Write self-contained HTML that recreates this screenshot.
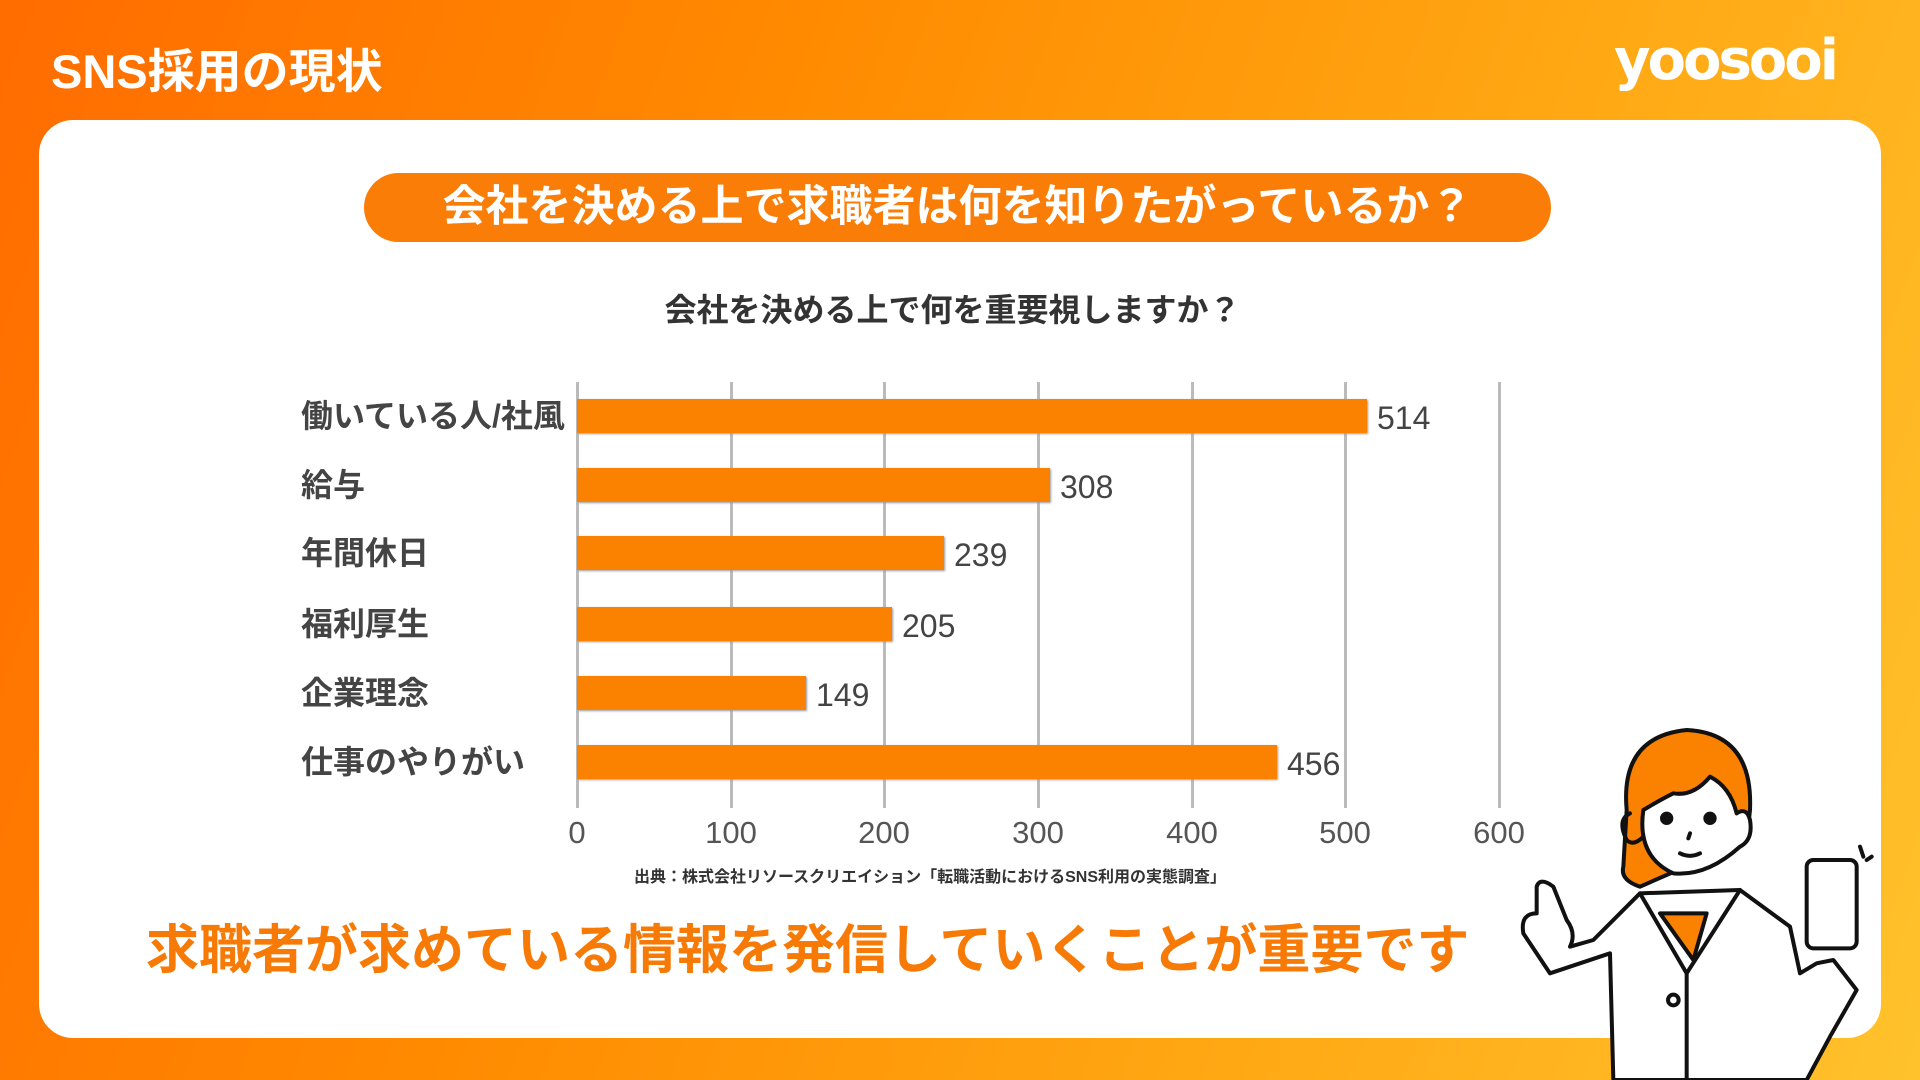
<!DOCTYPE html>
<html><head><meta charset="utf-8"><style>
body{margin:0;width:1920px;height:1080px;overflow:hidden;font-family:"Liberation Sans","Noto Sans CJK JP",sans-serif;
background:linear-gradient(110deg,#ff6c00 0%,#ff8a00 35%,#ffa814 70%,#ffc22c 100%);position:relative}
.t{position:absolute;white-space:nowrap}
.card{position:absolute;left:39px;top:120px;width:1842px;height:918px;background:#fff;border-radius:34px}
.pill{position:absolute;left:364px;top:173px;width:1187px;height:69px;background:#f97d06;border-radius:35px;color:#fff;font-weight:bold;font-size:43px;text-align:center;line-height:69px}
.lab{position:absolute;left:301px;font-size:32px;font-weight:bold;color:#444;line-height:34px}
.bar{position:absolute;left:577px;height:34px;background:#fb8100;box-shadow:1px 1px 2px #999}
.val{position:absolute;font-size:32px;color:#444;line-height:34px;font-family:"Liberation Sans",sans-serif}
.grid{position:absolute;top:382px;width:3px;height:426px;background:#bbb}
.tick{position:absolute;top:815px;font-size:31px;color:#555;width:80px;margin-left:-40px;text-align:center}
</style></head><body>
<div class="t" style="left:51px;top:33px;font-size:47px;font-weight:bold;color:#fff">SNS採用の現状</div>
<div class="t" style="left:1614px;top:28px;font-size:56px;font-weight:bold;color:#fff;font-family:'DejaVu Sans',sans-serif;letter-spacing:-3px">yoosooi</div>
<div class="card"></div>
<div class="pill">会社を決める上で求職者は何を知りたがっているか？</div>
<div class="t" style="left:0;width:1905px;text-align:center;top:285px;font-size:32px;font-weight:bold;color:#333">会社を決める上で何を重要視しますか？</div>
<div class="grid" style="left:576px"></div><div class="grid" style="left:730px"></div><div class="grid" style="left:883px"></div><div class="grid" style="left:1037px"></div><div class="grid" style="left:1191px"></div><div class="grid" style="left:1344px"></div><div class="grid" style="left:1498px"></div>
<div class="tick" style="left:577px">0</div><div class="tick" style="left:731px">100</div><div class="tick" style="left:884px">200</div><div class="tick" style="left:1038px">300</div><div class="tick" style="left:1192px">400</div><div class="tick" style="left:1345px">500</div><div class="tick" style="left:1499px">600</div>
<div class="lab" style="top:399px">働いている人/社風</div><div class="bar" style="top:399px;width:790px"></div><div class="val" style="top:401px;left:1377px">514</div>
<div class="lab" style="top:468px">給与</div><div class="bar" style="top:468px;width:473px"></div><div class="val" style="top:470px;left:1060px">308</div>
<div class="lab" style="top:536px">年間休日</div><div class="bar" style="top:536px;width:367px"></div><div class="val" style="top:538px;left:954px">239</div>
<div class="lab" style="top:607px">福利厚生</div><div class="bar" style="top:607px;width:315px"></div><div class="val" style="top:609px;left:902px">205</div>
<div class="lab" style="top:676px">企業理念</div><div class="bar" style="top:676px;width:229px"></div><div class="val" style="top:678px;left:816px">149</div>
<div class="lab" style="top:745px">仕事のやりがい</div><div class="bar" style="top:745px;width:700px"></div><div class="val" style="top:747px;left:1287px">456</div>
<div class="t" style="left:0;width:1860px;text-align:center;top:863px;font-size:16px;font-weight:bold;color:#333">出典：株式会社リソースクリエイション「転職活動におけるSNS利用の実態調査」</div>
<div class="t" style="left:146px;top:908px;font-size:53px;font-weight:bold;color:#f77a06">求職者が求めている情報を発信していくことが重要です</div>
<svg style="position:absolute;left:1500px;top:700px" width="420" height="380" viewBox="0 0 1260 1140" fill="none" stroke="#111" stroke-width="12" stroke-linejoin="round" stroke-linecap="round">
<path d="M380 330 Q360 110 560 90 Q760 100 750 330 L740 420 L420 560 Q360 540 370 500 Z" fill="#fb8100"/>
<path d="M340 1140 L330 760 L150 820 L70 700 Q60 640 110 640 L110 560 Q120 530 160 560 L200 660 Q230 700 210 740 L280 720 L420 580 L720 570 L870 680 L900 820 L950 790 L1000 780 L1070 870 L990 1010 L920 1140 Z" fill="#fff"/>
<path d="M480 640 L620 640 L580 780 Z" fill="#fb8100"/>
<path d="M430 330 Q410 470 520 520 Q620 530 720 440 Q760 420 750 360 Q740 320 710 340 Q690 260 630 230 Q580 290 520 280 Q480 300 430 330 Z" fill="#fff"/>
<path d="M390 340 Q350 360 380 420 Q400 440 430 410"/>
<circle cx="500" cy="355" r="14" fill="#111"/><circle cx="630" cy="355" r="14" fill="#111"/>
<path d="M540 460 Q570 475 600 460"/><path d="M570 400 L565 415"/>
<path d="M420 580 L560 820 L720 570"/><path d="M560 820 L560 1140"/><circle cx="520" cy="900" r="16"/>
<rect x="920" y="480" width="150" height="265" rx="20" fill="#fff"/>
<path d="M1080 440 L1090 470 M1100 480 L1115 470"/>
</svg>
</body></html>
